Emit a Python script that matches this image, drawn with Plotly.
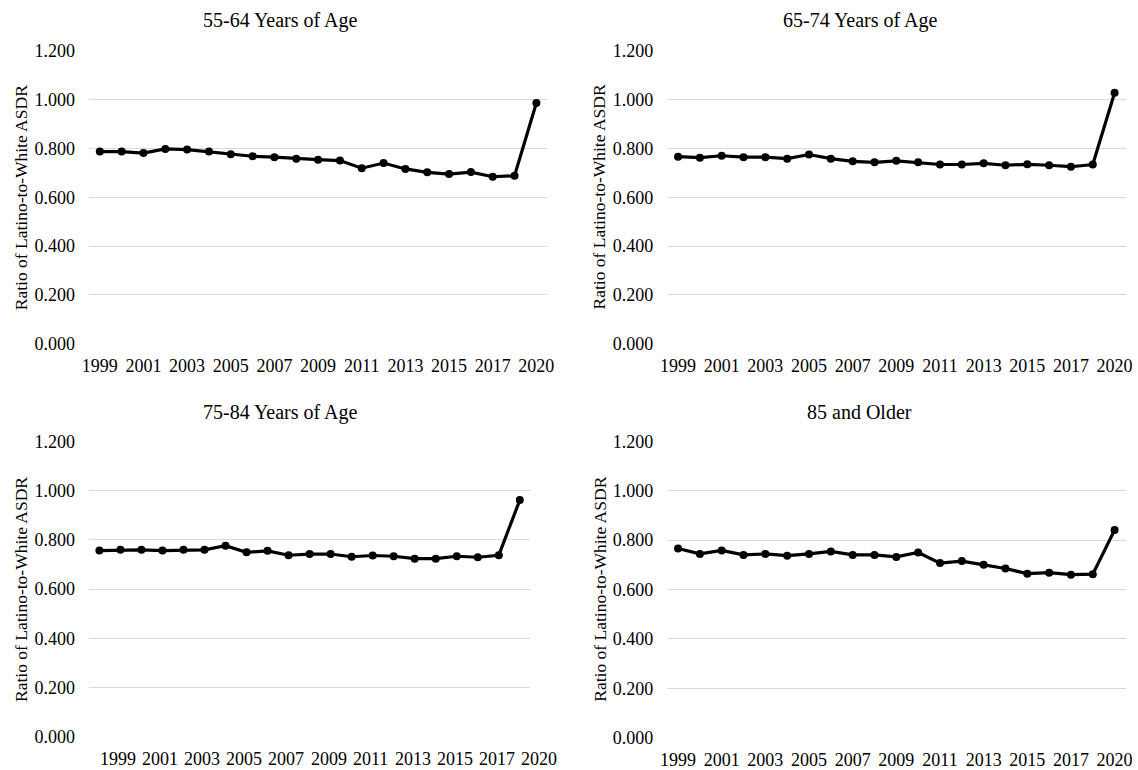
import plotly.graph_objects as go

years = ["1999", "2000", "2001", "2002", "2003", "2004", "2005", "2006", "2007", "2008",
         "2009", "2010", "2011", "2012", "2013", "2014", "2015", "2016", "2017", "2018", "2020"]

age_55_64 = [0.787, 0.787, 0.781, 0.798, 0.795, 0.787, 0.776, 0.768, 0.764, 0.758,
             0.754, 0.750, 0.719, 0.740, 0.716, 0.702, 0.695, 0.703, 0.684, 0.688, 0.986]
age_65_74 = [0.766, 0.762, 0.770, 0.764, 0.764, 0.758, 0.775, 0.758, 0.747, 0.743,
             0.749, 0.743, 0.734, 0.734, 0.739, 0.731, 0.735, 0.731, 0.725, 0.734, 1.028]
age_75_84 = [0.756, 0.759, 0.759, 0.756, 0.759, 0.759, 0.776, 0.749, 0.755, 0.737,
             0.742, 0.742, 0.731, 0.736, 0.733, 0.723, 0.723, 0.733, 0.729, 0.737, 0.961]
age_85_up = [0.766, 0.744, 0.758, 0.740, 0.744, 0.737, 0.744, 0.754, 0.740, 0.740,
             0.732, 0.750, 0.707, 0.715, 0.700, 0.685, 0.664, 0.668, 0.660, 0.662, 0.841]

titles = ["55-64 Years of Age", "65-74 Years of Age", "75-84 Years of Age", "85 and Older"]
y_title = "Ratio of Latino-to-White ASDR"
y_ticks = [0.0, 0.2, 0.4, 0.6, 0.8, 1.0, 1.2]
label_years = years[::2]

W, H = 1138, 770
FONT = "Liberation Serif"


def px(x):
    return ((x - 6) / 0.989) / W


def py(y):
    return 1 - ((y - 10) / 0.974) / H


# plot areas in target pixels: (left, right, top, bottom)
areas = [(88, 547, 50.5, 344), (667, 1126, 50.5, 344),
         (88, 530, 441, 737), (667, 1126, 441, 738)]
title_pos = [(280, 20), (861, 20), (280, 412), (860, 412)]
ytitle_x = [20, 599, 20, 599]
series = [age_55_64, age_65_74, age_75_84, age_85_up]

idx = list(range(len(years)))
x_range = [-0.5, len(years) - 0.5]
label_shift = 0.9  # panel 3 category labels are offset from its points

fig = go.Figure()
layout = dict(width=W, height=H, margin=dict(l=0, r=0, t=0, b=0),
              paper_bgcolor="white", plot_bgcolor="white", showlegend=False,
              font=dict(family=FONT, color="#000000", size=17))
annotations = []
for k in range(4):
    n = "" if k == 0 else str(k + 1)
    l, r, t, b = areas[k]
    fig.add_trace(go.Scatter(
        x=idx, y=series[k], mode="lines+markers", xaxis="x" + n, yaxis="y" + n,
        line=dict(color="#000000", width=3.2),
        marker=dict(color="#000000", size=8),
    ))
    shifted = (k == 2)
    layout["xaxis" + n] = dict(
        domain=[px(l), px(r)], anchor="y" + n, range=x_range,
        showgrid=False, zeroline=False, showline=False,
        tickmode="array", tickvals=idx[::2] if not shifted else [],
        ticktext=label_years if not shifted else [],
        ticks="", ticklabelstandoff=9,
        tickfont=dict(family=FONT, size=18, color="#000000"),
    )
    layout["yaxis" + n] = dict(
        domain=[py(b), py(t)], anchor="x" + n, range=[-0.0008, 1.2008],
        tickmode="array", tickvals=y_ticks, tickformat=".3f",
        showgrid=True, gridcolor="#d9d9d9", gridwidth=1,
        zeroline=False, showline=False, ticks="", ticklabelstandoff=13,
        tickfont=dict(family=FONT, size=18, color="#000000"),
    )
    tx, ty = title_pos[k]
    annotations.append(dict(text=titles[k], xref="paper", yref="paper",
                            x=px(tx), y=py(ty), xanchor="center", yanchor="middle",
                            showarrow=False, font=dict(family=FONT, size=20, color="#000000")))
    annotations.append(dict(text=y_title, xref="paper", yref="paper",
                            x=px(ytitle_x[k]), y=py((t + b) / 2), textangle=-90,
                            xanchor="center", yanchor="middle", showarrow=False,
                            font=dict(family=FONT, size=17.5, color="#000000")))
    if shifted:
        span = x_range[1] - x_range[0]
        for i, lab in zip(idx[::2], label_years):
            annotations.append(dict(text=lab, xref="x" + n + " domain", yref="y" + n + " domain",
                                    x=(i + label_shift - x_range[0]) / span, y=-0.035,
                                    xanchor="center", yanchor="top", showarrow=False,
                                    font=dict(family=FONT, size=18, color="#000000")))

layout["annotations"] = annotations
fig.update_layout(**layout)
fig.write_html("out.html", config={"displayModeBar": False},
               post_script="document.body.style.margin='0';document.body.style.overflow='hidden';")
